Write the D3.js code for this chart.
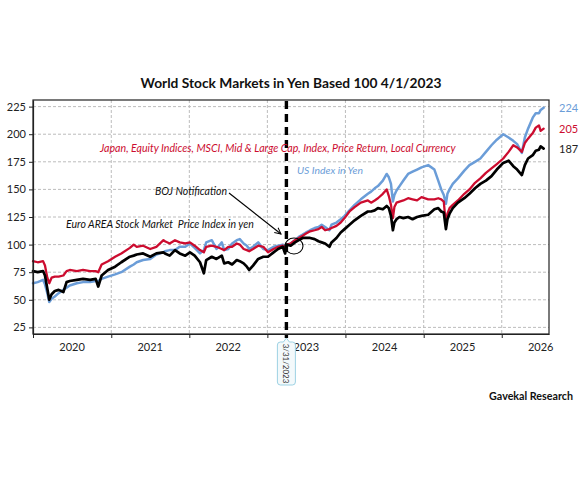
<!DOCTYPE html>
<html>
<head>
<meta charset="utf-8">
<script src="https://cdn.jsdelivr.net/npm/d3@7"></script>
<style>
body { margin: 0; background: #fff; }
svg { display: block; font-family: Lato, "Open Sans", sans-serif; }
.grid line { stroke: #bcbcbc; stroke-dasharray: 3,2; stroke-width: 1; }
.series { fill: none; stroke-linejoin: round; stroke-linecap: round; }
.axis text { font-family: Lato, "Open Sans", sans-serif; fill: #222; }
</style>
</head>
<body>
<script>
// observation dates (shared by all three series)
const dates = [
    "2020-01-01","2020-01-23","2020-02-17","2020-02-26","2020-03-08","2020-03-17","2020-03-28","2020-04-12","2020-04-30","2020-05-22","2020-06-06","2020-06-21","2020-07-24","2020-08-22","2020-09-24","2020-10-20","2020-11-01","2020-11-17","2020-12-17",
    "2021-01-19","2021-02-17","2021-03-29","2021-04-16","2021-04-30","2021-05-30","2021-07-02","2021-07-31","2021-09-02","2021-09-09","2021-10-01","2021-10-26","2021-11-17","2021-12-13",
    "2022-01-04","2022-01-26","2022-02-20","2022-03-10","2022-03-21","2022-04-16","2022-05-08","2022-06-02","2022-06-13","2022-07-02","2022-07-20","2022-08-11","2022-08-25","2022-09-12","2022-09-27","2022-10-08","2022-10-26","2022-11-19","2022-12-13",
    "2023-01-04","2023-01-30","2023-02-20","2023-03-14","2023-03-25",
    "2023-04-01","2023-04-20","2023-05-10","2023-05-28","2023-06-15","2023-07-01","2023-07-20","2023-08-10","2023-08-28","2023-09-12","2023-09-28","2023-10-18","2023-10-28","2023-11-20","2023-12-10","2023-12-28",
    "2024-01-20","2024-02-13","2024-03-13","2024-04-15","2024-04-30","2024-05-17","2024-06-01","2024-06-24","2024-07-12","2024-07-22","2024-08-01","2024-08-10","2024-08-17","2024-08-27","2024-09-10","2024-09-28","2024-10-20","2024-11-10","2024-12-01","2024-12-22",
    "2025-01-22","2025-02-20","2025-03-10","2025-03-24","2025-04-05","2025-04-15","2025-04-22","2025-05-02","2025-05-17","2025-06-10","2025-07-10","2025-08-03","2025-08-29","2025-09-23","2025-10-19","2025-11-14","2025-12-09",
    "2026-01-08","2026-02-02","2026-02-24","2026-03-14","2026-04-05","2026-04-19","2026-05-04","2026-05-26","2026-06-09","2026-06-24","2026-07-02","2026-07-16"
]

// US index in yen (blue)
const usYen = [
    65,66,68,64,56,48,51,53,56,59,61,63,65,66,66,67,67,69,71,
    73,75,80,82,84,86,87,91,93,94,95,95,98,98,
    101,97,92,95,102,104,96,102,95,96,101,104,105,101,99,96,98,102,96,
    95,98,99,100,97,
    100,101,104,107,109,111,113,115,116,118,116,113,118,120,123,126,
    131,136,141,146,148,151,153,158,164,161,155,139,145,149,153,158,164,166,168,170,
    172,168,158,150,145,137,146,150,155,160,167,172,175,178,184,190,195,
    200,197,194,191,183,197,205,215,219,219,222,224
]

// Japan MSCI mid & large cap, local currency (red)
const japanMsci = [
    85,84,85,81,70,65,70,71,71,72,76,77,76,77,76,76,75,82,85,
    89,92,97,100,98,99,96,98,104,103,101,104,102,101,
    102,99,95,93,98,99,98,96,95,98,98,101,100,96,95,94,96,99,98,
    93,96,98,99,97,
    100,101,104,106,108,110,112,113,114,116,113,114,115,117,120,124,
    130,134,138,140,138,140,142,146,150,144,136,124,134,138,139,140,142,141,140,143,
    141,141,142,141,139,117,128,133,136,140,146,150,156,160,165,169,173,
    178,184,190,188,184,192,196,201,206,208,203,205
]

// Euro area stock market price index in yen (black)
const euroYen = [
    76,75,76,72,60,50,55,58,59,57,66,67,68,69,68,69,62,72,77,
    80,84,89,90,91,92,89,92,93,92,90,95,92,90,
    93,90,84,74,86,89,87,90,83,84,82,86,85,83,80,77,81,87,89,
    89,93,96,98,92,
    100,99,102,104,106,106,106,105,103,102,101,98,102,106,111,114,
    118,122,126,130,130,131,133,132,135,133,126,113,120,123,125,124,125,123,125,126,
    127,132,133,130,129,114,123,128,133,138,142,146,151,155,158,162,168,
    174,176,171,168,163,172,178,181,185,186,189,187
]

const yTicks = [25, 50, 75, 100, 125, 150, 175, 200, 225]
const years = [2020, 2021, 2022, 2023, 2024, 2025, 2026]
const endLabels = ["224", "205", "187"]
const bojDate = "2023-03-31"

const width = 582, height = 482
const plot = { left: 33, right: 549, top: 100, bottom: 334 }
const parse = d3.timeParse("%Y-%m-%d")

const x = d3.scaleTime()
    .domain([parse("2020-01-01"), parse("2026-08-10")])
    .range([plot.left, plot.right])
const y = d3.scaleLinear()
    .domain([19, 231])
    .range([plot.bottom, plot.top])

const svg = d3.select("body").append("svg")
    .attr("width", width)
    .attr("height", height)

// scale a label's font so it spans the width seen in the original
function fitWidth(sel, target) {
    const w = sel.node().getComputedTextLength()
    const fs = parseFloat(sel.attr("font-size"))
    sel.attr("font-size", (fs * target / w).toFixed(2))
    return sel
}

// grid
const grid = svg.append("g").classed("grid", true)
grid.selectAll("line.h").data(yTicks).enter().append("line")
    .attr("x1", plot.left).attr("x2", plot.right)
    .attr("y1", d => y(d)).attr("y2", d => y(d))
grid.selectAll("line.v").data(years.slice(1)).enter().append("line")
    .attr("x1", d => x(new Date(d, 0, 1))).attr("x2", d => x(new Date(d, 0, 1)))
    .attr("y1", plot.top).attr("y2", plot.bottom)

// series
const line = d3.line()
    .x((d, i) => x(parse(dates[i])))
    .y(d => y(d))

const series = [
    { values: usYen, color: "#6b9dd8", w: 2.5 },
    { values: japanMsci, color: "#cc0c2f", w: 2.3 },
    { values: euroYen, color: "#000000", w: 2.7 }
]
svg.append("g").selectAll("path").data(series).enter().append("path")
    .classed("series", true)
    .attr("d", d => line(d.values))
    .attr("stroke", d => d.color)
    .attr("stroke-width", d => d.w)

// frame
svg.append("rect")
    .attr("x", plot.left).attr("y", plot.top)
    .attr("width", plot.right - plot.left).attr("height", plot.bottom - plot.top)
    .attr("fill", "none").attr("stroke", "#222").attr("stroke-width", 1.2)

// y axis
const yAxis = svg.append("g").classed("axis", true)
    .attr("transform", `translate(${plot.left},0)`)
    .call(d3.axisLeft(y).tickValues(yTicks).tickSize(4).tickSizeOuter(0).tickPadding(3))
yAxis.select(".domain").attr("stroke", "#222").attr("stroke-width", 1.2)
yAxis.selectAll(".tick line").attr("stroke", "#222")
yAxis.selectAll("text").attr("font-size", 11)

// x axis: ticks on year starts, labels mid-year
const xAxis = svg.append("g").classed("axis", true)
    .attr("transform", `translate(0,${plot.bottom})`)
    .call(d3.axisBottom(x).tickValues(years.map(d => new Date(d, 0, 1))).tickFormat("").tickSize(4).tickSizeOuter(0))
xAxis.select(".domain").attr("stroke", "#222").attr("stroke-width", 1.2)
xAxis.selectAll(".tick line").attr("stroke", "#222")
xAxis.selectAll("text.year").data(years).enter().append("text")
    .classed("year", true)
    .attr("x", d => x(new Date(d, 6, 2)))
    .attr("y", 17)
    .attr("text-anchor", "middle")
    .attr("font-size", 11)
    .text(d => d)

// BOJ line
const bx = x(parse(bojDate))
svg.append("line")
    .attr("x1", bx).attr("x2", bx)
    .attr("y1", plot.top + 1).attr("y2", plot.bottom + 4)
    .attr("stroke", "#000").attr("stroke-width", 3.4)
    .attr("stroke-dasharray", "8,5")

// date callout under the axis
const bt = { x0: bx - 9, x1: bx + 9, y0: 342, y1: 385, r: 3 }
svg.append("path")
    .attr("d", `M${bt.x0 + bt.r},${bt.y0} L${bx - 3},${bt.y0} L${bx},${bt.y0 - 4} L${bx + 3},${bt.y0} L${bt.x1 - bt.r},${bt.y0}
        Q${bt.x1},${bt.y0} ${bt.x1},${bt.y0 + bt.r} L${bt.x1},${bt.y1 - bt.r} Q${bt.x1},${bt.y1} ${bt.x1 - bt.r},${bt.y1}
        L${bt.x0 + bt.r},${bt.y1} Q${bt.x0},${bt.y1} ${bt.x0},${bt.y1 - bt.r} L${bt.x0},${bt.y0 + bt.r} Q${bt.x0},${bt.y0} ${bt.x0 + bt.r},${bt.y0} Z`)
    .attr("fill", "#f3f9fb").attr("stroke", "#9dd2e4").attr("stroke-width", 1)
svg.append("text")
    .attr("transform", `translate(${bx},${(bt.y0 + bt.y1) / 2}) rotate(90)`)
    .attr("text-anchor", "middle")
    .attr("dominant-baseline", "central")
    .attr("font-size", 8)
    .attr("fill", "#333")
    .text("3/31/2023")

// title
fitWidth(svg.append("text")
    .attr("x", 291).attr("y", 88)
    .attr("text-anchor", "middle")
    .attr("font-size", 13).attr("font-weight", "bold")
    .attr("fill", "#111")
    .text("World Stock Markets in Yen Based 100 4/1/2023"), 301)

// annotations
const notes = [
    { text: "Japan, Equity Indices, MSCI, Mid & Large Cap, Index, Price Return, Local Currency", x: 100, y: 152, w: 356, color: "#cc0c2f" },
    { text: "US Index in Yen", x: 297, y: 173.5, w: 66, color: "#6b9dd8" },
    { text: "BOJ Notification", x: 155, y: 195, w: 72, color: "#111" },
    { text: "Euro AREA Stock Market\u00a0 Price Index in yen", x: 66, y: 227.5, w: 188, color: "#111" }
]
notes.forEach(n => {
    fitWidth(svg.append("text")
        .attr("x", n.x).attr("y", n.y)
        .attr("font-size", 10).attr("font-style", "italic")
        .attr("fill", n.color)
        .text(n.text), n.w)
})

// arrow to the notification point
svg.append("defs").append("marker")
    .attr("id", "head")
    .attr("viewBox", "0 0 10 10")
    .attr("refX", 9).attr("refY", 5)
    .attr("markerWidth", 7).attr("markerHeight", 7)
    .attr("orient", "auto")
    .append("path")
    .attr("d", "M1,1 L9,5 L1,9")
    .attr("fill", "none").attr("stroke", "#000").attr("stroke-width", 1.3)
svg.append("line")
    .attr("x1", 229).attr("y1", 193)
    .attr("x2", 281).attr("y2", 234)
    .attr("stroke", "#000").attr("stroke-width", 1.1)
    .attr("marker-end", "url(#head)")
svg.append("ellipse")
    .attr("cx", 294).attr("cy", 246)
    .attr("rx", 9).attr("ry", 8)
    .attr("fill", "none").attr("stroke", "#000").attr("stroke-width", 1.1)

// end values
svg.selectAll("text.end").data(endLabels).enter().append("text")
    .classed("end", true)
    .attr("x", 559)
    .attr("y", (d, i) => [112, 133, 152.7][i])
    .attr("font-size", 11)
    .attr("fill", (d, i) => ["#6b9dd8", "#cc0c2f", "#222"][i])
    .text(d => d)

fitWidth(svg.append("text")
    .attr("x", 573).attr("y", 400)
    .attr("text-anchor", "end")
    .attr("font-size", 10).attr("font-weight", "bold")
    .attr("fill", "#111")
    .text("Gavekal Research"), 84)
</script>
</body>
</html>
